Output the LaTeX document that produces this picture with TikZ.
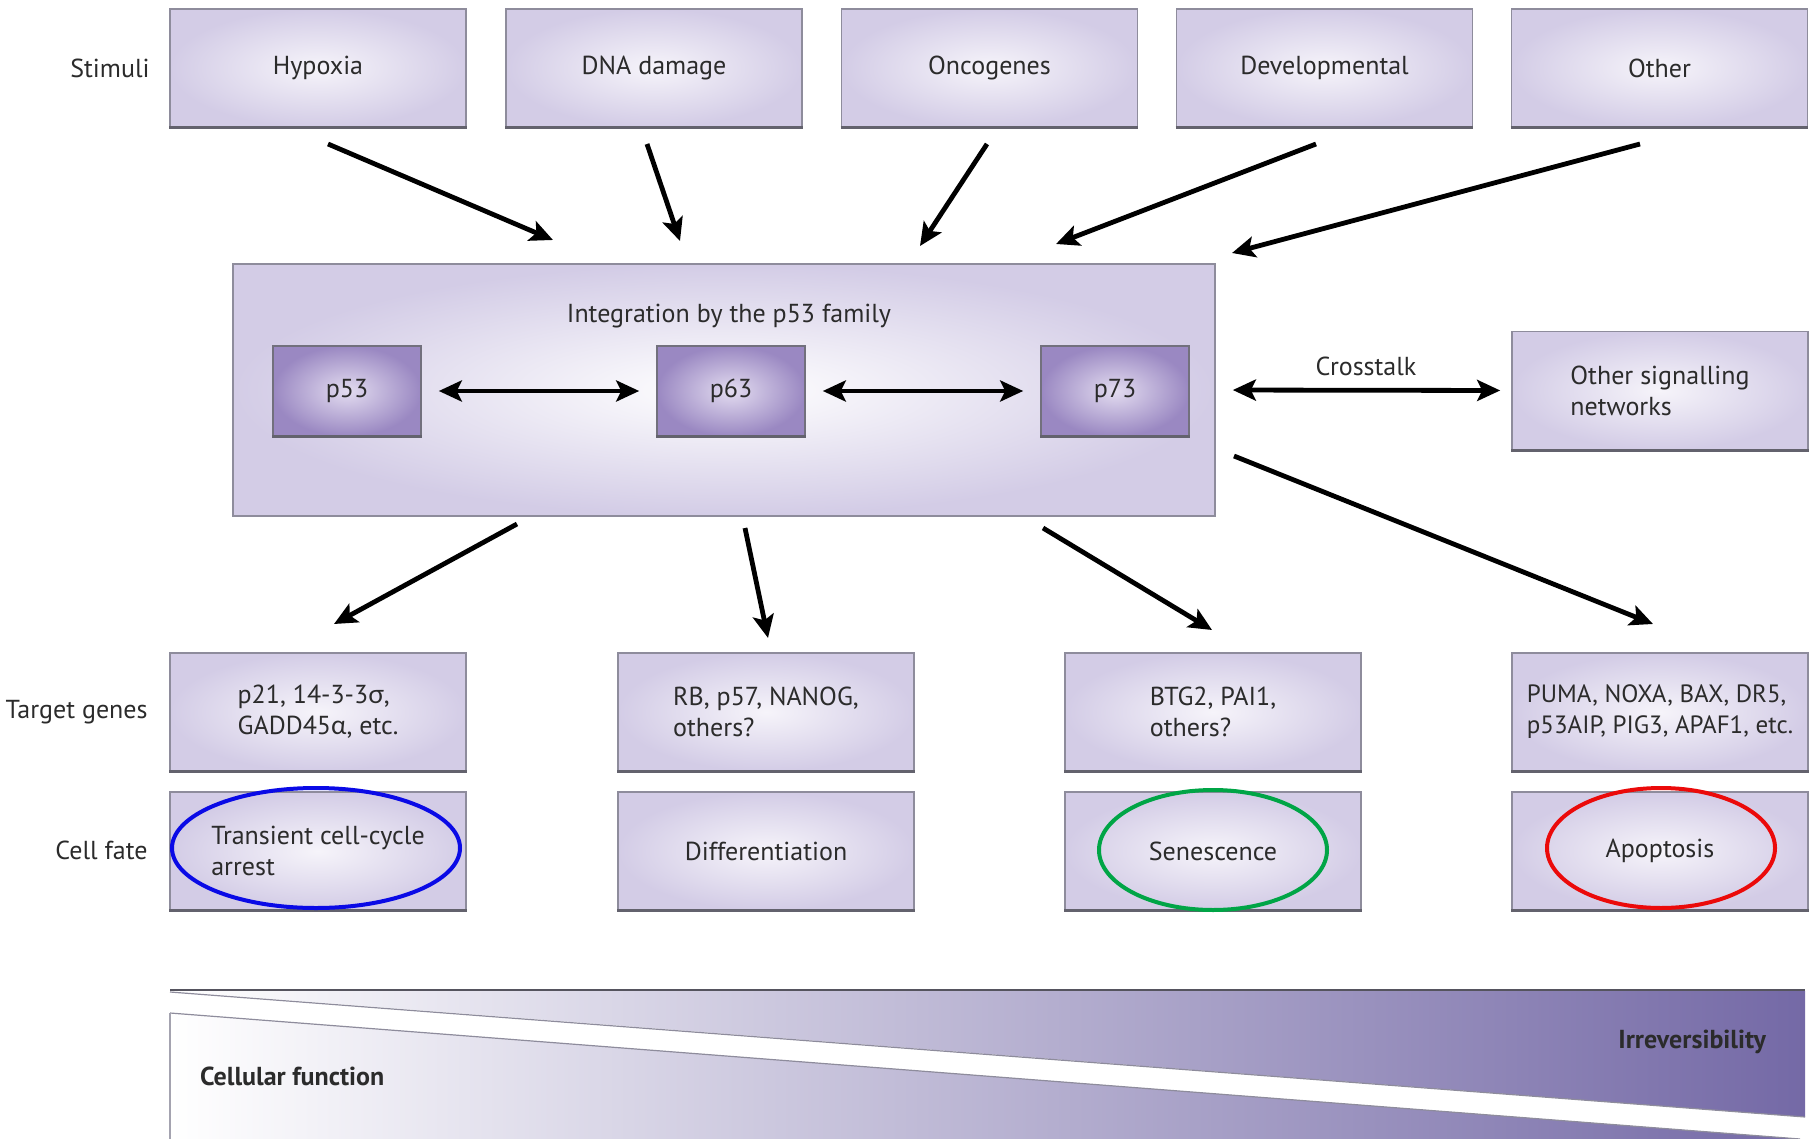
\documentclass[tikz,border=0pt]{standalone}
\usepackage{fontspec}
\setmainfont{PT Sans}
\newfontfamily\grk{Lato}
\usetikzlibrary{arrows.meta,shapes.geometric}

\definecolor{txt}{HTML}{2B2B2B}
\definecolor{edge}{HTML}{8E8C9C}
\definecolor{lavout}{HTML}{D3CCE6}
\definecolor{lavin}{HTML}{F6F4FA}
\definecolor{pout}{HTML}{9A88C2}
\definecolor{pin}{HTML}{E3DCF0}
\definecolor{bandend}{HTML}{7469A6}

\tikzset{
  lbl/.style={font=\fontsize{13}{15.5}\selectfont, text=txt},
  box/.style={lbl, rectangle, draw=edge, line width=0.8pt, inner color=lavin, outer color=lavout,
    minimum width=148pt, minimum height=59pt, align=left},
  pbox/.style={box, inner color=pin, outer color=pout, draw=edge!80!black,
    minimum width=74pt, minimum height=45pt},
  bigbox/.style={rectangle, draw=edge, line width=0.8pt, inner color=white, outer color=lavout,
    minimum width=491pt, minimum height=126pt},
  shadowline/.style={draw=edge!70!black, line width=1.6pt},
  tip/.tip={Stealth[length=11.5pt,width=10.5pt,inset=2.5pt]},
  arr/.style={-tip, line width=2.4pt, black},
  darr/.style={tip-tip, line width=2.4pt, black},
  fate/.style={ellipse, line width=2pt, minimum width=144pt, minimum height=60pt},
  rowlbl/.style={lbl, anchor=east, inner sep=0pt}
}

\begin{document}
\begin{tikzpicture}[x=0.5pt,y=-0.5pt]
\useasboundingbox (0,0) rectangle (1819,1139);

% stimuli
\node[rowlbl] (lstim) at (150,68) {Stimuli};
\node[box] (hyp) at (318,68) {Hypoxia};
\node[box] (dna) at (654,68) {DNA damage};
\node[box] (onc) at (989.5,68) {Oncogenes};
\node[box] (dev) at (1324.5,68) {Developmental};
\node[box] (oth) at (1659.5,68) {Other};

% integration by the p53 family
\node[bigbox] (integ) at (724,390) {};
\node[lbl] (ititle) at (729,316) {Integration by the p53 family};
\node[pbox] (p53) at (347,391) {p53};
\node[pbox] (p63) at (731,391) {p63};
\node[pbox] (p73) at (1115,391) {p73};
\node[box, minimum height=59pt] (osn) at (1660,390.5) {Other signalling\\networks};

% target genes
\node[rowlbl] (ltar) at (148,712) {Target genes};
\node[box] (t1) at (318,712) {p21, 14-3-3{\grk σ},\\GADD45{\grk α}, etc.};
\node[box] (t2) at (766,712) {RB, p57, NANOG,\\others?};
\node[box] (t3) at (1213,712) {BTG2, PAI1,\\others?};
\node[box, font=\fontsize{12.5}{15.5}\selectfont] (t4) at (1660,712) {PUMA, NOXA, BAX, DR5,\\p53AIP, PIG3, APAF1, etc.};

% cell fate
\node[rowlbl] (lfate) at (148,850) {Cell fate};
\node[box] (f1) at (318,851) {Transient cell-cycle\\arrest};
\node[box] (f2) at (766,851) {Differentiation};
\node[box] (f3) at (1213,851) {Senescence};
\node[box] (f4) at (1660,851) {Apoptosis};

% darker lower edges of the boxes
\foreach \n in {hyp,dna,onc,dev,oth,osn,t1,t2,t3,t4,f1,f2,f3,f4,p53,p63,p73}
  \draw[shadowline] (\n.south west) -- (\n.south east);

% highlighted fates
\node[fate, draw={rgb,255:red,10;green,10;blue,230}] (eA) at (316,848) {};
\node[fate, draw={rgb,255:red,0;green,165;blue,70}, minimum width=114pt] (eS) at (1213,850) {};
\node[fate, draw={rgb,255:red,235;green,10;blue,10}, minimum width=114pt] (eP) at (1661,848) {};

% arrow end points
\coordinate (s1) at (328,144);  \coordinate (e1) at (553,240);
\coordinate (s2) at (647,144);  \coordinate (e2) at (680,241);
\coordinate (s3) at (987,144);  \coordinate (e3) at (920,246);
\coordinate (s4) at (1316,144); \coordinate (e4) at (1056,244);
\coordinate (s5) at (1640,144); \coordinate (e5) at (1232,253);
\coordinate (d1) at (517,524);  \coordinate (g1) at (334,624);
\coordinate (d2) at (745,528);  \coordinate (g2) at (768,638);
\coordinate (d3) at (1043,528); \coordinate (g3) at (1212,630);
\coordinate (d4) at (1234,456); \coordinate (g4) at (1653,624);

\draw[arr] (s1) -- (e1);
\draw[arr] (s2) -- (e2);
\draw[arr] (s3) -- (e3);
\draw[arr] (s4) -- (e4);
\draw[arr] (s5) -- (e5);

\draw[darr, shorten <=8.5pt, shorten >=8.5pt] (p53) -- (p63);
\draw[darr, shorten <=8.5pt, shorten >=8.5pt] (p63) -- (p73);
\draw[darr, shorten <=8.5pt, shorten >=5.5pt] (integ.east) -- (osn.west);
\node[lbl] (xtalk) at (1366,366) {Crosstalk};

\draw[arr] (d1) -- (g1);
\draw[arr] (d2) -- (g2);
\draw[arr] (d3) -- (g3);
\draw[arr] (d4) -- (g4);

% cellular function / irreversibility band
\begin{scope}
  \clip (170,991) -- (1805,991) -- (1805,1117) -- cycle
        (170,1013) -- (1800,1139) -- (170,1139) -- cycle;
  \shade[left color=white, right color=bandend] (170,990) rectangle (1805,1139);
\end{scope}
\draw[edge!60!black, line width=1.2pt] (170,990) -- (1805,990);
\draw[edge, line width=0.6pt] (170,992) -- (1805,1117);
\draw[edge, line width=0.6pt] (170,1013) -- (1800,1139);
\draw[edge!80!white, line width=0.8pt] (170,1013) -- (170,1139);
\node[lbl, font=\fontsize{13}{15}\selectfont\bfseries, anchor=west] (cf) at (193,1076) {Cellular function};
\node[lbl, font=\fontsize{13}{15}\selectfont\bfseries, anchor=east] (irr) at (1773,1042) {Irreversibility};
\end{tikzpicture}
\end{document}
